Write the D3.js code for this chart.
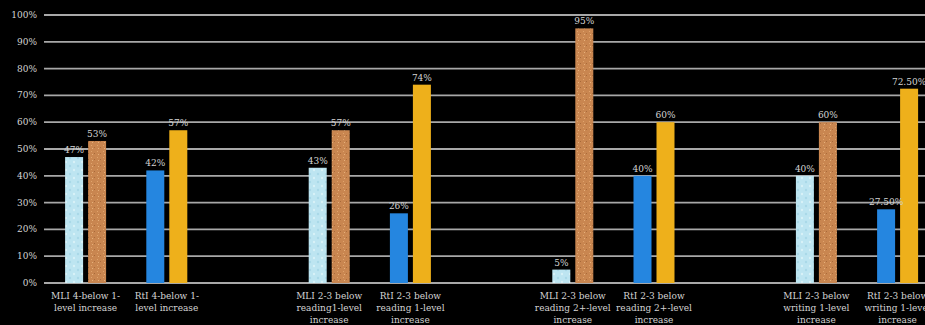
<!DOCTYPE html>
<html lang="en">
<head>
    <meta charset="UTF-8">
    <title>MLI vs RtI</title>
    <style>
        body { margin: 0; background: #000; }
        text { font-family: "DejaVu Serif", "Liberation Serif", serif; fill: #d4d4d4; }
    </style>
</head>
<body>
    <div id="chart"></div>
    <script src="https://d3js.org/d3.v7.min.js"></script>
    <script>
        // data
        const categories = [
            ["MLI 4-below 1-", "level increase"],
            ["RtI 4-below 1-", "level increase"],
            ["MLI 2-3 below", "reading1-level", "increase"],
            ["RtI 2-3 below", "reading 1-level", "increase"],
            ["MLI 2-3 below", "reading 2+-level", "increase"],
            ["RtI 2-3 below", "reading 2+-level", "increase"],
            ["MLI 2-3 below", "writing 1-level", "increase"],
            ["RtI 2-3 below", "writing 1-level", "increase"]
        ];
        const firstValues = [0.47, 0.42, 0.43, 0.26, 0.05, 0.40, 0.40, 0.275];
        const secondValues = [0.53, 0.57, 0.57, 0.74, 0.95, 0.60, 0.60, 0.725];
        const firstLabels = ["47%", "42%", "43%", "26%", "5%", "40%", "40%", "27.50%"];
        const secondLabels = ["53%", "57%", "57%", "74%", "95%", "60%", "60%", "72.50%"];
        const yTicks = [0, 0.1, 0.2, 0.3, 0.4, 0.5, 0.6, 0.7, 0.8, 0.9, 1.0];

        const W = 925, H = 325;
        const svg = d3.select("#chart").append("svg")
            .attr("width", W).attr("height", H)
            .style("background", "#000");

        // patterns
        const defs = svg.append("defs");
        const pLight = defs.append("pattern").attr("id", "pLight")
            .attr("patternUnits", "userSpaceOnUse").attr("width", 8).attr("height", 8);
        pLight.append("rect").attr("width", 8).attr("height", 8).attr("fill", "#bde5f1");
        pLight.append("circle").attr("cx", 2).attr("cy", 2).attr("r", 1.2).attr("fill", "#d8f2f8");
        pLight.append("circle").attr("cx", 6).attr("cy", 6).attr("r", 1.2).attr("fill", "#a9d9e8");

        const pBrown = defs.append("pattern").attr("id", "pBrown")
            .attr("patternUnits", "userSpaceOnUse").attr("width", 6).attr("height", 6);
        pBrown.append("rect").attr("width", 6).attr("height", 6).attr("fill", "#c98650");
        pBrown.append("rect").attr("x", 1).attr("y", 1).attr("width", 1).attr("height", 1).attr("fill", "#e0a46c");
        pBrown.append("rect").attr("x", 4).attr("y", 3).attr("width", 1).attr("height", 1).attr("fill", "#a86a3a");
        pBrown.append("rect").attr("x", 2).attr("y", 4).attr("width", 1).attr("height", 1).attr("fill", "#e6b07a");

        // x slots: every pair of categories is followed by an empty slot
        const slots = [];
        categories.forEach((c, i) => {
            slots.push("c" + i);
            if (i % 2 === 1) slots.push("gap" + i);
        });

        const x = d3.scaleBand().domain(slots).range([45, 45 + slots.length * 81.2]);
        const y = d3.scaleLinear().domain([0, 1]).range([283, 15]);

        // gridlines
        svg.append("g").selectAll("line").data(yTicks).join("line")
            .attr("x1", 44).attr("x2", W)
            .attr("y1", d => y(d)).attr("y2", d => y(d))
            .attr("stroke", "#a8a8a8").attr("stroke-width", 1.8);

        svg.append("g").selectAll("text").data(yTicks).join("text")
            .attr("x", 37).attr("y", d => y(d) + 3)
            .attr("text-anchor", "end").attr("font-size", 9)
            .text(d => d3.format(".0%")(d));

        const barW = 18, gap = 5;
        const rows = categories.map((c, i) => ({
            key: "c" + i, lines: c,
            a: firstValues[i], b: secondValues[i],
            la: firstLabels[i], lb: secondLabels[i],
            mli: i % 2 === 0
        }));

        const g = svg.append("g");
        rows.forEach(r => {
            const cx = x(r.key) + x.bandwidth() / 2;
            const x1 = cx - gap / 2 - barW, x2 = cx + gap / 2;
            g.append("rect").attr("x", x1).attr("y", y(r.a))
                .attr("width", barW).attr("height", y(0) - y(r.a))
                .attr("fill", r.mli ? "url(#pLight)" : "#2586e0");
            g.append("rect").attr("x", x2).attr("y", y(r.b))
                .attr("width", barW).attr("height", y(0) - y(r.b))
                .attr("fill", r.mli ? "url(#pBrown)" : "#eeb01b");
            g.append("text").attr("x", x1 + barW / 2).attr("y", y(r.a) - 4)
                .attr("text-anchor", "middle").attr("font-size", 9).text(r.la);
            g.append("text").attr("x", x2 + barW / 2).attr("y", y(r.b) - 4)
                .attr("text-anchor", "middle").attr("font-size", 9).text(r.lb);
            const t = g.append("text").attr("text-anchor", "middle").attr("font-size", 9);
            r.lines.forEach((ln, j) => {
                t.append("tspan").attr("x", cx).attr("y", 299 + j * 12).text(ln);
            });
        });
    </script>
</body>
</html>
